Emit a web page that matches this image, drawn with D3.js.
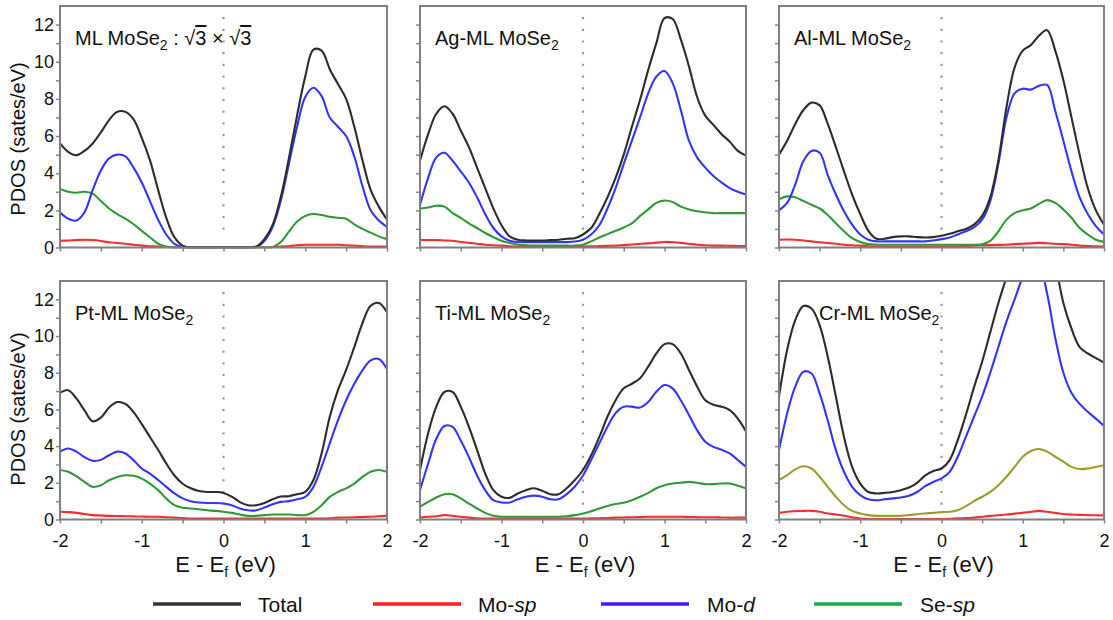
<!DOCTYPE html>
<html><head><meta charset="utf-8">
<script src="https://cdn.jsdelivr.net/npm/d3@7"></script>
<style>
body{margin:0;background:#fff}
svg{display:block}
text{font-family:"Liberation Sans", Arial, Helvetica, sans-serif;}
</style>
</head><body>
<svg id="c" width="1113" height="620"></svg>
<script>
// ---------------- data ----------------
const energy = [-2.0,-1.9,-1.8,-1.7,-1.6,-1.5,-1.4,-1.3,-1.2,-1.1,-1.0,-0.9,-0.8,-0.7,-0.6,-0.5,-0.4,-0.3,-0.2,-0.1,0.0,0.1,0.2,0.3,0.4,0.5,0.6,0.7,0.8,0.9,1.0,1.1,1.2,1.3,1.4,1.5,1.6,1.7,1.8,1.9,2.0];
const xTicks = [-2,-1.5,-1,-0.5,0,0.5,1,1.5,2];
const yTicks = [0,1,2,3,4,5,6,7,8,9,10,11,12];
const seriesNames = ["Total","Mo-sp","Mo-d","Se-sp"];
const panelTitles = ["ML MoSe","Ag-ML MoSe","Al-ML MoSe","Pt-ML MoSe","Ti-ML MoSe","Cr-ML MoSe"];

// ML MoSe2 (sqrt3 x sqrt3)
const ml_total = [5.6,5.15,4.97,5.2,5.6,6.2,6.86,7.3,7.3,6.9,5.9,4.7,3.1,1.6,0.55,0.1,0,0,0,0,0,0,0,0,0.05,0.45,1.2,2.7,4.8,7.1,9.2,10.65,10.6,9.6,8.8,8.0,6.5,4.7,3.1,2.2,1.5];
const ml_mosp  = [0.36,0.38,0.4,0.42,0.4,0.35,0.28,0.24,0.2,0.15,0.1,0.07,0.05,0.02,0,0,0,0,0,0,0,0,0,0,0,0,0.02,0.05,0.08,0.12,0.15,0.15,0.15,0.15,0.15,0.12,0.1,0.07,0.05,0.05,0.05];
const ml_mod   = [1.9,1.55,1.45,1.9,3.1,4.15,4.8,5.0,4.9,4.3,3.5,2.5,1.5,0.7,0.2,0.03,0,0,0,0,0,0,0,0,0.02,0.35,1.1,2.5,4.5,6.5,8.1,8.6,8.15,7.0,6.5,6.0,4.9,3.3,2.0,1.45,1.1];
const ml_sesp  = [3.15,3.0,2.95,3.0,2.9,2.5,2.1,1.8,1.55,1.25,0.9,0.55,0.2,0.05,0,0,0,0,0,0,0,0,0,0,0,0,0.02,0.3,0.85,1.4,1.7,1.8,1.75,1.65,1.6,1.55,1.25,1.0,0.8,0.6,0.45];

// Ag-ML MoSe2
const ag_total = [4.67,6.1,7.2,7.6,7.2,6.3,5.4,4.3,3.2,2.1,1.2,0.6,0.42,0.38,0.38,0.38,0.4,0.42,0.47,0.5,0.7,1.05,1.8,2.7,3.75,5.0,6.5,7.95,9.55,11.0,12.35,12.3,11.2,9.75,8.1,7.1,6.6,6.1,5.7,5.2,4.95];
const ag_mosp  = [0.4,0.4,0.4,0.38,0.36,0.3,0.25,0.2,0.15,0.12,0.1,0.07,0.05,0.05,0.05,0.05,0.05,0.05,0.05,0.05,0.05,0.06,0.08,0.09,0.1,0.13,0.16,0.2,0.22,0.26,0.3,0.28,0.25,0.2,0.15,0.12,0.1,0.1,0.09,0.08,0.08];
const ag_mod   = [2.3,3.75,4.85,5.1,4.67,4.1,3.5,2.7,1.8,1.05,0.6,0.36,0.29,0.29,0.29,0.29,0.29,0.29,0.29,0.32,0.42,0.7,1.2,2.1,3.2,4.5,5.75,7.0,8.3,9.2,9.5,8.85,7.4,5.75,4.85,4.3,3.85,3.5,3.2,3.0,2.85];
const ag_sesp  = [2.1,2.15,2.25,2.2,1.85,1.6,1.3,1.05,0.78,0.56,0.36,0.24,0.15,0.12,0.1,0.1,0.1,0.1,0.1,0.1,0.15,0.33,0.54,0.72,0.9,1.08,1.3,1.7,2.05,2.4,2.53,2.45,2.2,2.05,1.95,1.9,1.85,1.85,1.85,1.85,1.85];

// Al-ML MoSe2
const al_total = [5.0,5.75,6.65,7.4,7.8,7.65,6.65,5.4,4.1,2.85,1.8,0.9,0.47,0.47,0.56,0.6,0.6,0.56,0.54,0.56,0.63,0.74,0.87,1.0,1.23,1.7,2.7,4.7,7.55,9.7,10.6,10.9,11.4,11.7,10.6,9.0,7.0,5.0,3.2,2.0,1.23];
const al_mosp  = [0.42,0.43,0.42,0.38,0.33,0.28,0.24,0.2,0.15,0.12,0.1,0.07,0.05,0.05,0.05,0.05,0.05,0.05,0.05,0.05,0.05,0.05,0.06,0.08,0.1,0.12,0.13,0.14,0.15,0.18,0.2,0.22,0.25,0.23,0.2,0.18,0.15,0.1,0.08,0.06,0.05];
const al_mod   = [2.0,2.4,3.4,4.65,5.2,5.1,3.9,2.85,1.95,1.23,0.7,0.42,0.33,0.33,0.33,0.33,0.33,0.33,0.33,0.38,0.45,0.54,0.7,0.87,1.08,1.5,2.5,4.5,7.0,8.3,8.55,8.5,8.7,8.75,7.35,5.75,4.1,2.7,1.8,1.15,0.7];
const al_sesp  = [2.6,2.75,2.7,2.5,2.3,2.1,1.75,1.3,0.87,0.5,0.3,0.18,0.15,0.15,0.15,0.15,0.15,0.15,0.15,0.15,0.15,0.15,0.15,0.15,0.15,0.18,0.36,0.87,1.5,1.85,2.0,2.1,2.35,2.55,2.4,2.05,1.6,1.05,0.7,0.42,0.3];

// Pt-ML MoSe2
const pt_total = [6.9,7.05,6.6,5.95,5.35,5.55,6.1,6.4,6.3,5.85,5.2,4.5,3.8,3.05,2.4,1.95,1.7,1.55,1.5,1.5,1.45,1.25,0.95,0.78,0.78,0.9,1.1,1.25,1.27,1.38,1.5,2.15,3.6,5.6,7.05,8.15,9.4,10.7,11.65,11.8,11.3];
const pt_mosp  = [0.42,0.4,0.36,0.3,0.24,0.22,0.2,0.19,0.18,0.17,0.16,0.15,0.15,0.12,0.1,0.08,0.05,0.05,0.05,0.05,0.05,0.05,0.05,0.05,0.05,0.05,0.05,0.05,0.05,0.05,0.05,0.05,0.05,0.07,0.1,0.11,0.12,0.14,0.15,0.18,0.2];
const pt_mod   = [3.7,3.87,3.7,3.4,3.2,3.25,3.5,3.7,3.6,3.23,2.78,2.5,2.15,1.78,1.42,1.15,1.0,0.93,0.9,0.9,0.87,0.78,0.6,0.5,0.5,0.65,0.83,0.96,1.0,1.1,1.23,1.78,2.87,4.15,5.4,6.5,7.4,8.13,8.67,8.75,8.2];
const pt_sesp  = [2.7,2.6,2.36,2.05,1.78,1.87,2.14,2.32,2.41,2.38,2.23,1.96,1.6,1.14,0.78,0.64,0.6,0.56,0.5,0.47,0.42,0.36,0.27,0.2,0.2,0.24,0.27,0.27,0.27,0.24,0.24,0.42,0.78,1.23,1.5,1.7,1.96,2.32,2.6,2.7,2.6];

// Ti-ML MoSe2
const ti_total = [2.7,4.7,6.15,6.95,6.95,6.15,5.05,3.8,2.5,1.6,1.24,1.18,1.42,1.6,1.7,1.56,1.38,1.38,1.7,2.15,2.7,3.5,4.5,5.6,6.5,7.15,7.4,7.7,8.33,9.05,9.56,9.56,9.05,8.15,7.25,6.5,6.25,6.15,5.96,5.5,4.8];
const ti_mosp  = [0.1,0.15,0.18,0.24,0.2,0.15,0.1,0.07,0.05,0.05,0.05,0.05,0.05,0.05,0.05,0.05,0.05,0.05,0.05,0.05,0.05,0.06,0.07,0.08,0.1,0.11,0.12,0.13,0.15,0.15,0.15,0.15,0.15,0.14,0.13,0.12,0.12,0.11,0.1,0.1,0.1];
const ti_mod   = [1.6,3.05,4.4,5.1,5.05,4.3,3.4,2.4,1.6,1.05,0.93,0.93,1.1,1.24,1.3,1.24,1.1,1.1,1.38,1.8,2.4,3.24,4.15,5.05,5.8,6.15,6.15,6.1,6.4,6.96,7.33,7.15,6.5,5.7,4.87,4.24,3.96,3.8,3.6,3.24,2.87];
const ti_sesp  = [0.7,0.96,1.2,1.38,1.38,1.15,0.87,0.6,0.36,0.2,0.15,0.15,0.15,0.15,0.15,0.15,0.15,0.15,0.18,0.24,0.33,0.45,0.6,0.73,0.84,0.91,1.05,1.24,1.45,1.7,1.87,1.96,2.0,2.05,2.0,1.93,1.93,1.96,1.96,1.84,1.7];

// Cr-ML MoSe2 (Total and Mo-d run above the top of the frame)
const cr_total = [6.7,9.24,10.87,11.64,11.5,10.6,8.87,6.7,4.5,2.87,1.96,1.5,1.42,1.45,1.5,1.6,1.74,2.0,2.4,2.64,2.78,3.24,4.33,5.7,7.2,8.6,10.2,11.8,13.2,14.5,15.4,16.0,16.0,15.4,13.9,11.8,10.4,9.4,9.05,8.8,8.55];
const cr_mosp  = [0.36,0.42,0.45,0.47,0.47,0.42,0.33,0.27,0.2,0.12,0.05,0.03,0.02,0.02,0.02,0.02,0.02,0.02,0.02,0.02,0.02,0.04,0.06,0.08,0.1,0.15,0.2,0.23,0.27,0.32,0.36,0.42,0.47,0.42,0.36,0.3,0.27,0.25,0.24,0.23,0.22];
const cr_mod   = [3.78,5.78,7.24,8.05,7.96,6.87,5.4,3.78,2.6,1.78,1.33,1.1,1.05,1.1,1.15,1.2,1.29,1.5,1.82,2.05,2.24,2.6,3.42,4.5,5.6,6.7,8.0,9.4,10.8,12.0,13.2,14.0,13.9,12.3,9.9,8.0,6.9,6.3,5.87,5.5,5.1];
const cr_sesp  = [2.15,2.42,2.73,2.9,2.78,2.33,1.78,1.24,0.78,0.47,0.33,0.24,0.2,0.2,0.2,0.2,0.24,0.29,0.33,0.36,0.4,0.42,0.5,0.73,1.0,1.24,1.5,1.87,2.33,2.87,3.42,3.73,3.84,3.7,3.42,3.15,2.87,2.75,2.78,2.87,2.96];

// ---------------- layout / style ----------------
const W = 1113, H = 620;
const cols = [[60,387],[420,746],[779,1104]];
const rows = [[6,247.5],[281,519.5]];
const curveColors = {"Total":"#2c2c2c","Mo-sp":"#ff2b2b","Mo-d":"#3434ff","Se-sp":"#2f9a34"};
const legendColors = {"Total":"#333333","Mo-sp":"#ff1c1c","Mo-d":"#4a16ee","Se-sp":"#14ac48"};
const drawOrder = ["Mo-sp","Se-sp","Mo-d","Total"];

const panels = [
  {title: panelTitles[0], extra: true, r:0, c:0, data:{"Total":ml_total,"Mo-sp":ml_mosp,"Mo-d":ml_mod,"Se-sp":ml_sesp}},
  {title: panelTitles[1], r:0, c:1, data:{"Total":ag_total,"Mo-sp":ag_mosp,"Mo-d":ag_mod,"Se-sp":ag_sesp}},
  {title: panelTitles[2], r:0, c:2, data:{"Total":al_total,"Mo-sp":al_mosp,"Mo-d":al_mod,"Se-sp":al_sesp}},
  {title: panelTitles[3], r:1, c:0, data:{"Total":pt_total,"Mo-sp":pt_mosp,"Mo-d":pt_mod,"Se-sp":pt_sesp}},
  {title: panelTitles[4], r:1, c:1, data:{"Total":ti_total,"Mo-sp":ti_mosp,"Mo-d":ti_mod,"Se-sp":ti_sesp}},
  {title: panelTitles[5], r:1, c:2, titleDx: 40, seColor:"#9d9d2e", data:{"Total":cr_total,"Mo-sp":cr_mosp,"Mo-d":cr_mod,"Se-sp":cr_sesp}}
];

const svg = d3.select("#c");
svg.append("rect").attr("width",W).attr("height",H).attr("fill","#fff");
const defs = svg.append("defs");

panels.forEach((p,i) => {
  const [x0,x1] = cols[p.c];
  const [yTop,yBot] = rows[p.r];
  const x = d3.scaleLinear().domain([-2,2]).range([x0,x1]);
  const y = d3.scaleLinear().domain([0,13]).range([yBot,yTop]);
  const g = svg.append("g");

  defs.append("clipPath").attr("id","clip"+i)
    .append("rect").attr("x",x0).attr("y",yTop).attr("width",x1-x0).attr("height",yBot-yTop+1);

  // Fermi level dotted line
  g.append("line")
    .attr("x1",x(0)).attr("x2",x(0))
    .attr("y1",yTop+11).attr("y2",yBot-10)
    .attr("stroke","#9a9a9a").attr("stroke-width",2.2)
    .attr("stroke-dasharray","2.2,9.5");

  // curves
  const line = d3.line()
    .x((d,j) => x(energy[j]))
    .y(d => y(d))
    .curve(d3.curveCatmullRom.alpha(0.5));
  const cg = g.append("g").attr("clip-path","url(#clip"+i+")");
  drawOrder.forEach(name => {
    let col = curveColors[name];
    if (name === "Se-sp" && p.seColor) col = p.seColor;
    cg.append("path")
      .datum(p.data[name])
      .attr("d", line)
      .attr("fill","none")
      .attr("stroke", col)
      .attr("stroke-width", 2.1)
      .attr("stroke-linejoin","round");
  });

  // axes
  const xAxis = d3.axisBottom(x).tickValues(xTicks).tickSizeInner(4).tickSizeOuter(0).tickPadding(11)
    .tickFormat(d => (p.r === 1 && Number.isInteger(d)) ? String(d) : "");
  const gx = g.append("g").attr("transform",`translate(0,${yBot})`).call(xAxis);
  const yAxis = d3.axisLeft(y).tickValues(yTicks).tickSizeInner(4).tickSizeOuter(0).tickPadding(2)
    .tickFormat(d => (p.c === 0 && d % 2 === 0) ? String(d) : "");
  const gy = g.append("g").attr("transform",`translate(${x0},0)`).call(yAxis);
  [gx,gy].forEach(a => {
    a.select(".domain").remove();
    a.selectAll(".tick line").attr("stroke","#858585").attr("stroke-width",1.5);
    a.selectAll(".tick text").attr("fill","#111").attr("font-size",18)
      .attr("font-family","'Liberation Sans', Arial, sans-serif");
  });

  // frame
  g.append("rect").attr("x",x0).attr("y",yTop).attr("width",x1-x0).attr("height",yBot-yTop)
    .attr("fill","none").attr("stroke","#7f7f7f").attr("stroke-width",2);

  // title
  const t = g.append("text")
    .attr("x", x0 + (p.titleDx || 15))
    .attr("y", yTop + 39)
    .attr("font-size",20).attr("fill","#111");
  t.append("tspan").text(p.title);
  t.append("tspan").attr("dy",5).attr("font-size",14).text("2");
  if (p.extra) {
    t.append("tspan").attr("dy",-5).text(" : \u221A");
    t.append("tspan").style("text-decoration","overline").text("3");
    t.append("tspan").text(" \u00D7 \u221A");
    t.append("tspan").style("text-decoration","overline").text("3");
  }

  // x label (bottom row)
  if (p.r === 1) {
    const xl = g.append("text").attr("x",(x0+x1)/2+2).attr("y",572)
      .attr("text-anchor","middle").attr("font-size",22).attr("fill","#111");
    xl.append("tspan").text("E - E");
    xl.append("tspan").attr("dy",5).attr("font-size",14).text("f");
    xl.append("tspan").attr("dy",-5).text(" (eV)");
  }
  // y label (left column)
  if (p.c === 0) {
    const cy = p.r === 0 ? 139 : 409;
    g.append("text").attr("transform",`translate(25,${cy}) rotate(-90)`)
      .attr("text-anchor","middle").attr("font-size",20).attr("fill","#111")
      .text("PDOS (sates/eV)");
  }
});

// legend
const legendX = {"Total":[153,258],"Mo-sp":[373,478],"Mo-d":[601,707],"Se-sp":[814,920]};
const lg = svg.append("g");
seriesNames.forEach(name => {
  const [lx,tx] = legendX[name];
  lg.append("line").attr("x1",lx).attr("x2",lx+88).attr("y1",604).attr("y2",604)
    .attr("stroke",legendColors[name]).attr("stroke-width",3.5);
  const t = lg.append("text").attr("x",tx).attr("y",611.5).attr("font-size",21).attr("fill","#111");
  if (name === "Total") t.text("Total");
  else {
    const parts = name.split("-");
    t.append("tspan").text(parts[0] + "-");
    t.append("tspan").attr("font-style","italic").text(parts[1]);
  }
});
</script>
</body></html>
